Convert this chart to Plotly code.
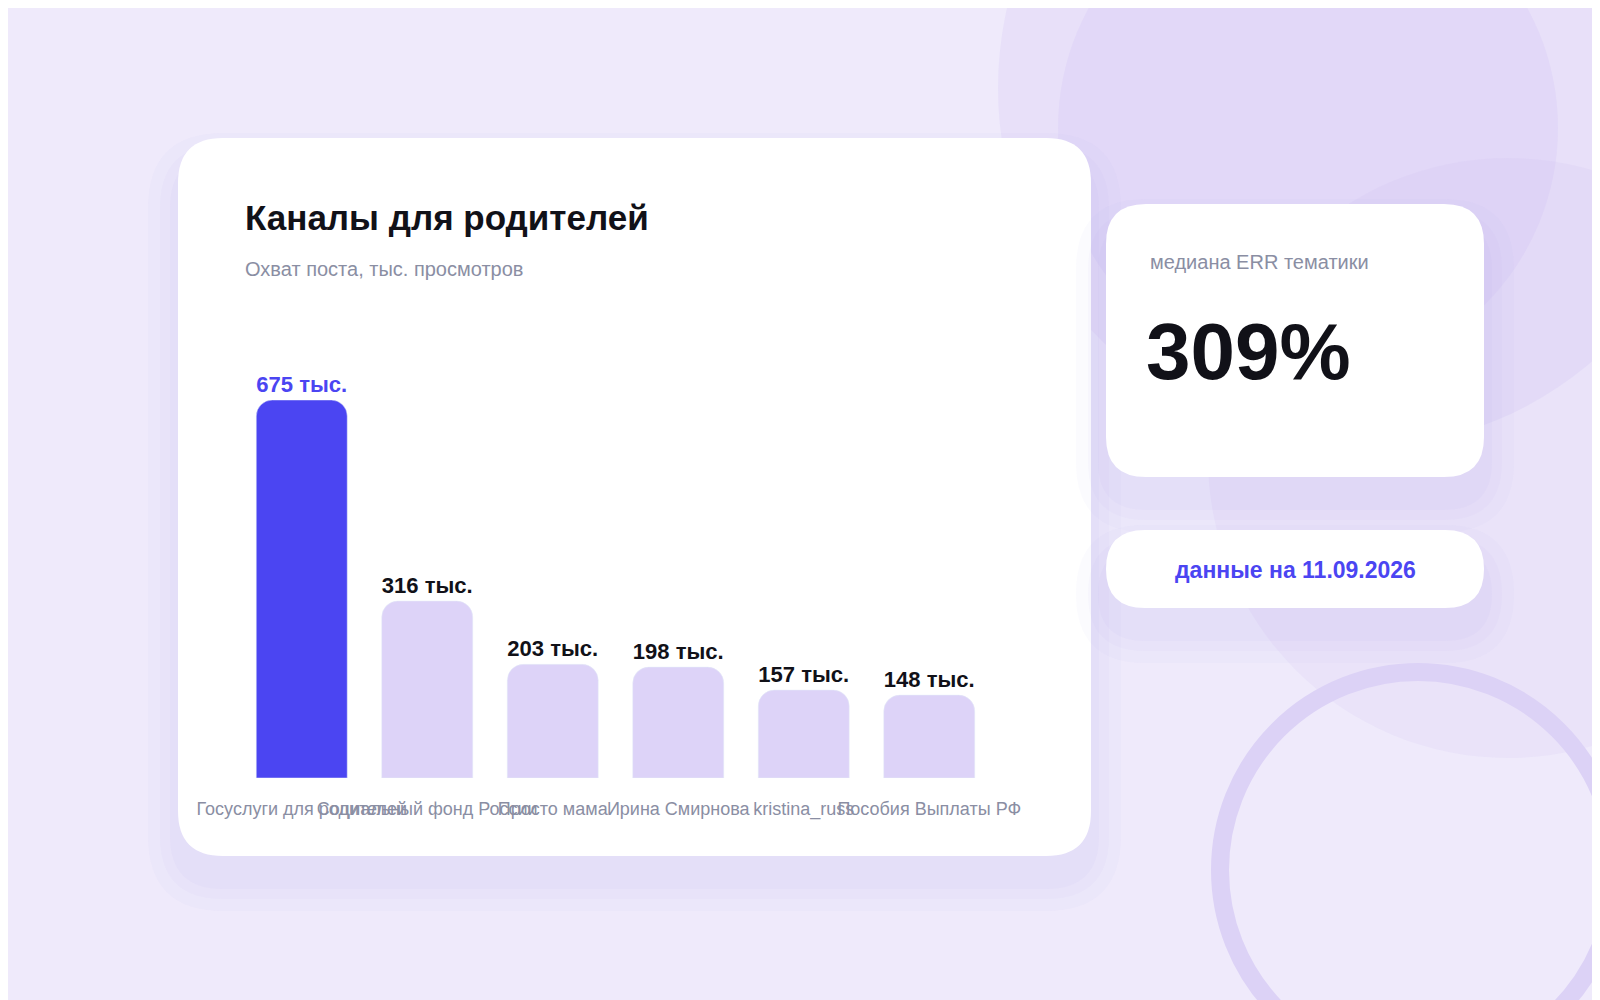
import plotly.graph_objects as go

channels = ["Госуслуги для родителей", "Социальный фонд России", "Просто мама",
            "Ирина Смирнова", "kristina_russ", "Пособия Выплаты РФ"]
reach = [675, 316, 203, 198, 157, 148]
reach_labels = ["675 тыс.", "316 тыс.", "203 тыс.", "198 тыс.", "157 тыс.", "148 тыс."]
median_err = "309%"
data_date = "данные на 11.09.2026"

W, H = 1600, 1000
FONT = "Liberation Sans, Arial, sans-serif"


def px(x, y):
    return x / W, 1 - y / H


def rrect(x0, y0, x1, y1, r):
    a0, b0 = px(x0, y0)
    a1, b1 = px(x1, y1)
    rx, ry = r / W, r / H
    return (f"M {a0+rx},{b0} L {a1-rx},{b0} Q {a1},{b0} {a1},{b0-ry} "
            f"L {a1},{b1+ry} Q {a1},{b1} {a1-rx},{b1} L {a0+rx},{b1} "
            f"Q {a0},{b1} {a0},{b1+ry} L {a0},{b0-ry} Q {a0},{b0} {a0+rx},{b0} Z")


colors = ["#4b45f2"] + ["#ddd3f8"] * 5
text_colors = ["#4b45f2"] + ["#111118"] * 5

fig = go.Figure(go.Bar(
    x=channels, y=reach, text=[f"<b>{t}</b>" for t in reach_labels], textposition="outside",
    textfont=dict(size=27, color=text_colors, family=FONT),
    marker=dict(color=colors, cornerradius=16), cliponaxis=False,
    hoverinfo="skip",
))

shapes = []
# soft background blobs
for (cx, cy, r, op) in [(1350, 80, 360, 0.18), (1300, 120, 250, 0.18), (1500, 450, 300, 0.12)]:
    a0, b0 = px(cx - r, cy - r)
    a1, b1 = px(cx + r, cy + r)
    shapes.append(dict(type="circle", xref="paper", yref="paper", x0=a0, x1=a1, y0=b0, y1=b1,
                       fillcolor="#c6b6f2", opacity=op, line_width=0, layer="below"))
# ring
a0, b0 = px(1410 - 198, 862 - 198)
a1, b1 = px(1410 + 198, 862 + 198)
shapes.append(dict(type="circle", xref="paper", yref="paper", x0=a0, x1=a1, y0=b0, y1=b1,
                   line=dict(color="#dcd2f6", width=18), layer="below"))
# shadows and cards
for (x0, y0, x1, y1, r) in [(170, 130, 1083, 848, 45), (1098, 196, 1476, 469, 40), (1098, 522, 1476, 600, 39)]:
    for k, op in [(30, 0.05), (18, 0.06), (8, 0.07)]:
        shapes.append(dict(type="path", xref="paper", yref="paper",
                           path=rrect(x0 - k, y0 - k + 25, x1 + k, y1 + k + 25, r + k),
                           fillcolor="#b9a8ee", opacity=op, line_width=0, layer="below"))
    shapes.append(dict(type="path", xref="paper", yref="paper", path=rrect(x0, y0, x1, y1, r),
                       fillcolor="white", line_width=0, layer="below"))


def ann(x, y, text, size, color, bold=False, xanchor="left"):
    ax, ay = px(x, y)
    return dict(x=ax, y=ay, xref="paper", yref="paper", xanchor=xanchor, yanchor="middle",
                text=f"<b>{text}</b>" if bold else text, showarrow=False,
                font=dict(size=size, color=color, family=FONT))


annotations = [
    ann(235, 210, "Каналы для родителей", 35, "#111118", True),
    ann(235, 261, "Охват поста, тыс. просмотров", 20, "#8a8ea3"),
    ann(1140, 254, "медиана ERR тематики", 20, "#8a8ea3"),
    ann(1136, 343, median_err, 80, "#111118", True),
    ann(1287, 562, data_date, 23, "#4b45f2", True, "center"),
]

fig.update_layout(
    width=W, height=H, autosize=False, margin=dict(l=0, r=0, t=0, b=0, autoexpand=False),
    paper_bgcolor="#efeafb", plot_bgcolor="rgba(0,0,0,0)",
    shapes=shapes, annotations=annotations, showlegend=False,
    bargap=0.275, font=dict(family=FONT),
    xaxis=dict(domain=[231 / W, 984 / W], showgrid=False, zeroline=False, showline=False,
               automargin=False, tickfont=dict(size=18, color="#8a8ea3"),
               ticklabelstandoff=18, tickangle=0),
    yaxis=dict(domain=[0.23, 0.608], range=[0, 675], visible=False, automargin=False),
)

fig.write_html("out.html", config={"responsive": False})
